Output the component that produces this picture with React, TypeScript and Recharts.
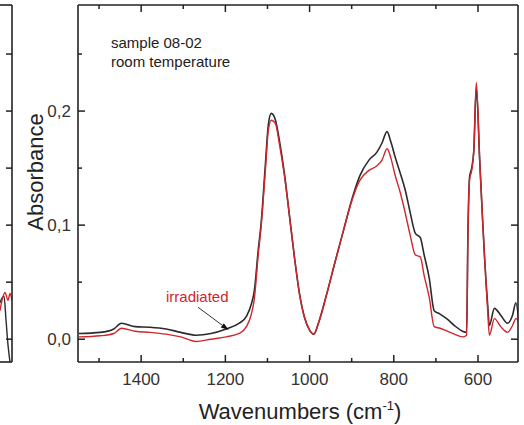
import React from "react";
import { LineChart, Line, XAxis, YAxis, ReferenceLine } from "recharts";

// main panel: FTIR absorbance
const wavenumbers = [
  1548, 1497, 1465, 1447, 1414, 1379, 1341, 1306, 1270, 1234, 1198, 1167, 1150,
  1139, 1131, 1122, 1115, 1105, 1098, 1091, 1081, 1072, 1060, 1048, 1036, 1024,
  1012, 1000, 990, 979, 959, 940, 919, 900, 881, 859, 840, 828, 816, 807, 797,
  785, 773, 761, 749, 737, 728, 716, 704, 690, 673, 656, 637, 627, 624, 620, 615,
  610, 604, 596, 589, 584, 577, 573, 561, 546, 530, 518, 510, 501,
];
const sample = [
  0.005, 0.006, 0.009, 0.014, 0.011, 0.0105, 0.009, 0.006, 0.0035, 0.005, 0.009,
  0.014, 0.02, 0.03, 0.043, 0.078, 0.102, 0.153, 0.188, 0.198, 0.192, 0.175,
  0.146, 0.109, 0.072, 0.04, 0.019, 0.008, 0.0044, 0.014, 0.04, 0.067, 0.096,
  0.122, 0.143, 0.157, 0.164, 0.172, 0.182, 0.173, 0.16, 0.146, 0.131, 0.111,
  0.093, 0.089, 0.074, 0.054, 0.025, 0.022, 0.0175, 0.012, 0.007, 0.006, 0.09,
  0.142, 0.15, 0.165, 0.221, 0.157, 0.104, 0.069, 0.03, 0.012, 0.027, 0.021,
  0.014, 0.021, 0.032, 0.005,
];
const irradiated = [
  0.002, 0.003, 0.005, 0.0096, 0.007, 0.006, 0.0044, 0.002, -0.002, 0.0, 0.002,
  0.005, 0.011, 0.021, 0.036, 0.074, 0.099, 0.148, 0.183, 0.192, 0.189, 0.172,
  0.144, 0.109, 0.072, 0.04, 0.019, 0.008, 0.0044, 0.014, 0.04, 0.067, 0.096,
  0.121, 0.139, 0.148, 0.152, 0.157, 0.167, 0.159, 0.144, 0.129, 0.111, 0.091,
  0.074, 0.072, 0.056, 0.037, 0.011, 0.0096, 0.007, 0.0044, 0.002, 0.0035, 0.09,
  0.14, 0.148, 0.165, 0.225, 0.157, 0.104, 0.069, 0.025, 0.0035, 0.018, 0.011,
  0.006, 0.012, 0.018, 0.014,
];

const xTicks = [1500, 1400, 1300, 1200, 1100, 1000, 900, 800, 700, 600];
const yTicks = [0, 0.05, 0.1, 0.15, 0.2, 0.25];
const yMajor = [0, 0.1, 0.2];
const yLabels = ["0,0", "0,1", "0,2"];

// cut-off neighbour panel on the far left
const leftRedX = [0, 2, 5, 8, 10, 12];
const leftRed = [0.025, 0.034, 0.041, 0.034, 0.04, 0.034];
const leftBlackX = [0, 2, 4, 6, 8, 10];
const leftBlack = [0.032, 0.036, 0.038, 0.017, -0.005, -0.02];

const AXIS = "#222";
const BLACK = "#2b2b2b";
const RED = "#d0262b";
const FONT = "'Liberation Sans', Arial, sans-serif";
const X_DOMAIN = [505, 1550];
const Y_DOMAIN = [-0.02, 0.293];

const rows = wavenumbers.map((wn, i) => ({
  wn,
  sample: sample[i],
  irradiated: irradiated[i],
}));
const leftRedRows = leftRedX.map((x, i) => ({ x, v: leftRed[i] }));
const leftBlackRows = leftBlackX.map((x, i) => ({ x, v: leftBlack[i] }));

const isMajorY = (v: number) => yMajor.some((m) => Math.abs(m - v) < 1e-9);

const BottomTick = (props: any) => {
  const { x, y, payload } = props;
  const major = payload.value % 200 === 0;
  return (
    <g>
      <line x1={x} y1={y} x2={x} y2={y - (major ? 7 : 4)} stroke={AXIS} strokeWidth={1.5} />
      {major && (
        <text x={x} y={y + 23} textAnchor="middle" fontSize={17} fill="#333" fontFamily={FONT}>
          {payload.value}
        </text>
      )}
    </g>
  );
};

const TopTick = (props: any) => {
  const { x, y, payload } = props;
  const major = payload.value % 200 === 0;
  return <line x1={x} y1={y} x2={x} y2={y + (major ? 7 : 4)} stroke={AXIS} strokeWidth={1.5} />;
};

const LeftTick = (props: any) => {
  const { x, y, payload } = props;
  const major = isMajorY(payload.value);
  const idx = yMajor.findIndex((m) => Math.abs(m - payload.value) < 1e-9);
  return (
    <g>
      <line x1={x} y1={y} x2={x + (major ? 7 : 4)} y2={y} stroke={AXIS} strokeWidth={1.5} />
      {major && (
        <text x={x - 7} y={y + 6} textAnchor="end" fontSize={17} fill="#333" fontFamily={FONT}>
          {yLabels[idx]}
        </text>
      )}
    </g>
  );
};

const RightTick = (props: any) => {
  const { x, y, payload } = props;
  const major = isMajorY(payload.value);
  return <line x1={x} y1={y} x2={x - (major ? 7 : 4)} y2={y} stroke={AXIS} strokeWidth={1.5} />;
};

const NeighbourTick = (props: any) => {
  const { x, y } = props;
  return <line x1={x} y1={y} x2={x - 6} y2={y} stroke={AXIS} strokeWidth={1.5} />;
};

const ArrowShape = (props: any) => {
  const { x1, y1, x2, y2 } = props;
  const ang = Math.atan2(y2 - y1, x2 - x1);
  const len = 8;
  const w = 2.6;
  const bx = x2 - len * Math.cos(ang);
  const by = y2 - len * Math.sin(ang);
  const pts = [
    `${x2},${y2}`,
    `${bx + w * Math.sin(ang)},${by - w * Math.cos(ang)}`,
    `${bx - w * Math.sin(ang)},${by + w * Math.cos(ang)}`,
  ].join(" ");
  return (
    <g>
      <line x1={x1} y1={y1} x2={bx} y2={by} stroke="#333" strokeWidth={1} />
      <polygon points={pts} fill="#111" />
    </g>
  );
};

const axisLine = { stroke: AXIS, strokeWidth: 1.6 };

export default function App() {
  return (
    <div
      style={{
        position: "absolute",
        left: 0,
        top: 0,
        width: 524,
        height: 425,
        background: "#fff",
        fontFamily: FONT,
        color: "#222",
      }}
    >
      {/* neighbour panel, only its right edge is in frame */}
      <div style={{ position: "absolute", left: 0, top: 0 }}>
        <LineChart width={14} height={425} margin={{ top: 5, right: 2, bottom: 63, left: 0 }}>
          <XAxis xAxisId="b" type="number" dataKey="x" domain={[0, 12]} allowDataOverflow
            mirror tick={false} tickLine={false} axisLine={axisLine} />
          <XAxis xAxisId="t" type="number" dataKey="x" domain={[0, 12]} allowDataOverflow
            orientation="top" mirror tick={false} tickLine={false} axisLine={axisLine} />
          <YAxis yAxisId="r" type="number" domain={Y_DOMAIN} allowDataOverflow orientation="right"
            mirror ticks={yTicks} interval={0} tickSize={0} tickMargin={0} tickLine={false}
            tick={NeighbourTick} axisLine={axisLine} />
          <Line xAxisId="b" yAxisId="r" data={leftBlackRows} dataKey="v" type="monotone"
            stroke={BLACK} strokeWidth={1.4} dot={false} isAnimationActive={false} />
          <Line xAxisId="b" yAxisId="r" data={leftRedRows} dataKey="v" type="monotone"
            stroke={RED} strokeWidth={1.4} dot={false} isAnimationActive={false} />
        </LineChart>
      </div>

      <div style={{ position: "absolute", left: 0, top: 0 }}>
        <LineChart width={524} height={425} data={rows} margin={{ top: 5, right: 6, bottom: 0, left: 0 }}>
          <XAxis xAxisId="b" type="number" dataKey="wn" domain={X_DOMAIN} reversed allowDataOverflow
            ticks={xTicks} interval={0} height={63} tickSize={0} tickMargin={0} tickLine={false}
            tick={BottomTick} axisLine={axisLine} />
          <XAxis xAxisId="t" type="number" dataKey="wn" domain={X_DOMAIN} reversed allowDataOverflow
            orientation="top" mirror ticks={xTicks} interval={0} tickSize={0} tickMargin={0}
            tickLine={false} tick={TopTick} axisLine={axisLine} />
          <YAxis yAxisId="l" type="number" domain={Y_DOMAIN} allowDataOverflow ticks={yTicks}
            interval={0} width={78} tickSize={0} tickMargin={0} tickLine={false} tick={LeftTick}
            axisLine={axisLine} />
          <YAxis yAxisId="r" type="number" domain={Y_DOMAIN} allowDataOverflow orientation="right"
            mirror ticks={yTicks} interval={0} tickSize={0} tickMargin={0} tickLine={false}
            tick={RightTick} axisLine={axisLine} />
          <Line xAxisId="b" yAxisId="l" dataKey="sample" type="monotone" stroke={BLACK}
            strokeWidth={1.6} dot={false} isAnimationActive={false} />
          <Line xAxisId="b" yAxisId="l" dataKey="irradiated" type="monotone" stroke={RED}
            strokeWidth={1.4} dot={false} isAnimationActive={false} />
          <ReferenceLine xAxisId="b" yAxisId="l"
            segment={[{ x: 1265, y: 0.028 }, { x: 1192, y: 0.008 }]} shape={ArrowShape} />
        </LineChart>
      </div>

      <div style={{ position: "absolute", left: 111, top: 33, fontSize: 15, lineHeight: "19px", whiteSpace: "nowrap" }}>
        sample 08-02
        <br />
        room temperature
      </div>
      <div style={{ position: "absolute", left: 166, top: 287, fontSize: 15, lineHeight: "19px", color: RED }}>
        irradiated
      </div>
      <div
        style={{
          position: "absolute",
          left: 36,
          top: 172,
          fontSize: 22,
          lineHeight: 1,
          whiteSpace: "nowrap",
          transform: "translate(-50%, -50%) rotate(-90deg)",
        }}
      >
        Absorbance
      </div>
      <div
        style={{
          position: "absolute",
          left: 300,
          top: 412,
          fontSize: 22,
          lineHeight: 1,
          whiteSpace: "nowrap",
          transform: "translate(-50%, -50%)",
        }}
      >
        Wavenumbers (cm<span style={{ fontSize: 13, position: "relative", top: -9 }}>-1</span>)
      </div>
    </div>
  );
}
